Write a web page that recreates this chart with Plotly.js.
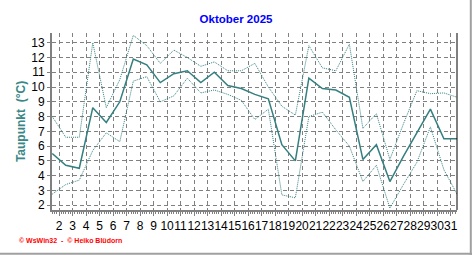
<!DOCTYPE html>
<html>
<head>
<meta charset="utf-8">
<script src="https://cdn.plot.ly/plotly-3.0.1.min.js"></script>
<style>html,body{margin:0;padding:0;background:#fff;}#chart{width:472px;height:255px;}</style>
</head>
<body>
<div id="chart"></div>
<script>
// Days of October 2025
const days = [1,2,3,4,5,6,7,8,9,10,11,12,13,14,15,16,17,18,19,20,21,22,23,24,25,26,27,28,29,30,31];
// Dew point (°C): daily mean, maximum, minimum
const dewMean = [5.5,4.7,4.5,8.6,7.6,9.0,11.9,11.5,10.3,10.9,11.1,10.3,11.0,10.1,9.9,9.5,9.2,6.1,5.0,10.6,9.9,9.8,9.3,5.1,6.1,3.6,5.3,6.9,8.5,6.5,6.5];
const dewMax  = [8.0,6.6,6.6,13.0,8.6,10.5,13.5,12.8,11.6,12.5,12.0,11.4,11.7,11.1,11.1,11.6,10.0,8.7,8.1,12.8,11.3,11.1,12.9,7.2,8.2,5.1,7.5,9.75,9.55,9.6,9.3];
const dewMin  = [2.75,3.4,3.7,5.7,6.9,6.3,10.4,10.7,9.0,9.4,10.6,9.6,9.8,9.5,9.1,7.8,8.5,2.7,2.5,8.0,8.3,7.1,6.0,3.6,4.7,1.8,3.4,4.9,7.3,4.4,2.7];
// Axis tick labels
const xTickVals = [2,3,4,5,6,7,8,9,10,11,12,13,14,15,16,17,18,19,20,21,22,23,24,25,26,27,28,29,30,31];
const xTickText = xTickVals.map(String);
const yTickVals = [2,3,4,5,6,7,8,9,10,11,12,13];

const teal = '#357f7f';
const xs = days.map(d => d + 0.5); // daily values centred at mid-day

const traces = [
  {x: xs, y: dewMax, mode: 'lines', line: {color: teal, width: 1, dash: '1px,1px'}, hoverinfo: 'skip'},
  {x: xs, y: dewMin, mode: 'lines', line: {color: teal, width: 1, dash: '1px,1px'}, hoverinfo: 'skip'},
  {x: xs, y: dewMean, mode: 'lines', line: {color: teal, width: 1.5}, hoverinfo: 'skip'}
];

const layout = {
  width: 472, height: 255,
  margin: {l: 52, r: 15, t: 33, b: 45},
  paper_bgcolor: '#ffffff', plot_bgcolor: '#ffffff',
  showlegend: false,
  font: {family: 'Liberation Sans, Arial, sans-serif', size: 12, color: '#000'},
  title: {
    text: 'Oktober 2025',
    font: {family: 'Liberation Sans, Arial, sans-serif', size: 11.5, color: '#0000ff', weight: 'bold'},
    x: 0.5, xref: 'container', xanchor: 'center',
    y: 1 - 19/255, yref: 'container', yanchor: 'middle'
  },
  xaxis: {
    range: [1.48, 31.47], autorange: false,
    tickmode: 'array', tickvals: xTickVals, ticktext: xTickText, tickangle: 0,
    showgrid: true, gridcolor: '#808080', gridwidth: 1, griddash: '4px,3px',
    zeroline: false,
    showline: true, linecolor: '#808080', linewidth: 2,
    ticks: 'outside', ticklen: 4, tickcolor: '#808080', tickwidth: 1,
    minor: {tickmode: 'linear', tick0: 2, dtick: 1/6, ticks: 'outside', ticklen: 2, tickcolor: '#808080', showgrid: false},
    tickfont: {size: 12, color: '#000'},
    fixedrange: true
  },
  xaxis2: {
    overlaying: 'x', side: 'top', anchor: 'y',
    range: [1.48, 31.47], autorange: false,
    tickmode: 'array', tickvals: xTickVals, showticklabels: false,
    ticks: 'inside', ticklen: 3, tickcolor: '#000', tickwidth: 1,
    showgrid: false, zeroline: false,
    showline: true, linecolor: '#000', linewidth: 1,
    fixedrange: true
  },
  yaxis: {
    range: [1.675, 13.657], autorange: false,
    tickmode: 'array', tickvals: yTickVals,
    showgrid: true, gridcolor: '#808080', gridwidth: 1, griddash: '4px,3px',
    zeroline: false,
    showline: true, linecolor: '#808080', linewidth: 2,
    ticks: 'outside', ticklen: 3, tickcolor: '#808080', tickwidth: 1,
    tickfont: {size: 12, color: '#000'},
    title: {text: 'Taupunkt  (°C)', font: {size: 12, color: '#3a8787', weight: 'bold'}, standoff: 3},
    automargin: false,
    fixedrange: true
  },
  shapes: [
    {type: 'line', xref: 'paper', yref: 'paper', x0: 1, x1: 1, y0: 0, y1: 1, line: {color: '#000', width: 1}},
    {type: 'line', xref: 'paper', yref: 'paper', x0: (470.8-52)/405, x1: (470.8-52)/405, y0: (210-0)/177, y1: (210-255)/177, line: {color: '#a0a0a0', width: 2}},
    {type: 'line', xref: 'paper', yref: 'paper', x0: (0-52)/405, x1: (472-52)/405, y0: (210-253.8)/177, y1: (210-253.8)/177, line: {color: '#a0a0a0', width: 2}}
  ],
  annotations: [
    {text: '© WsWin32  -  © Heiko Blüdorn', xref: 'paper', yref: 'paper',
     x: (17-52)/405, y: (210-240)/177, xanchor: 'left', yanchor: 'middle', showarrow: false,
     font: {family: 'Liberation Sans, Arial, sans-serif', size: 7, color: '#ff0000', weight: 'bold'}}
  ]
};

Plotly.newPlot('chart', traces, layout, {staticPlot: true, displayModeBar: false});
</script>
</body>
</html>
